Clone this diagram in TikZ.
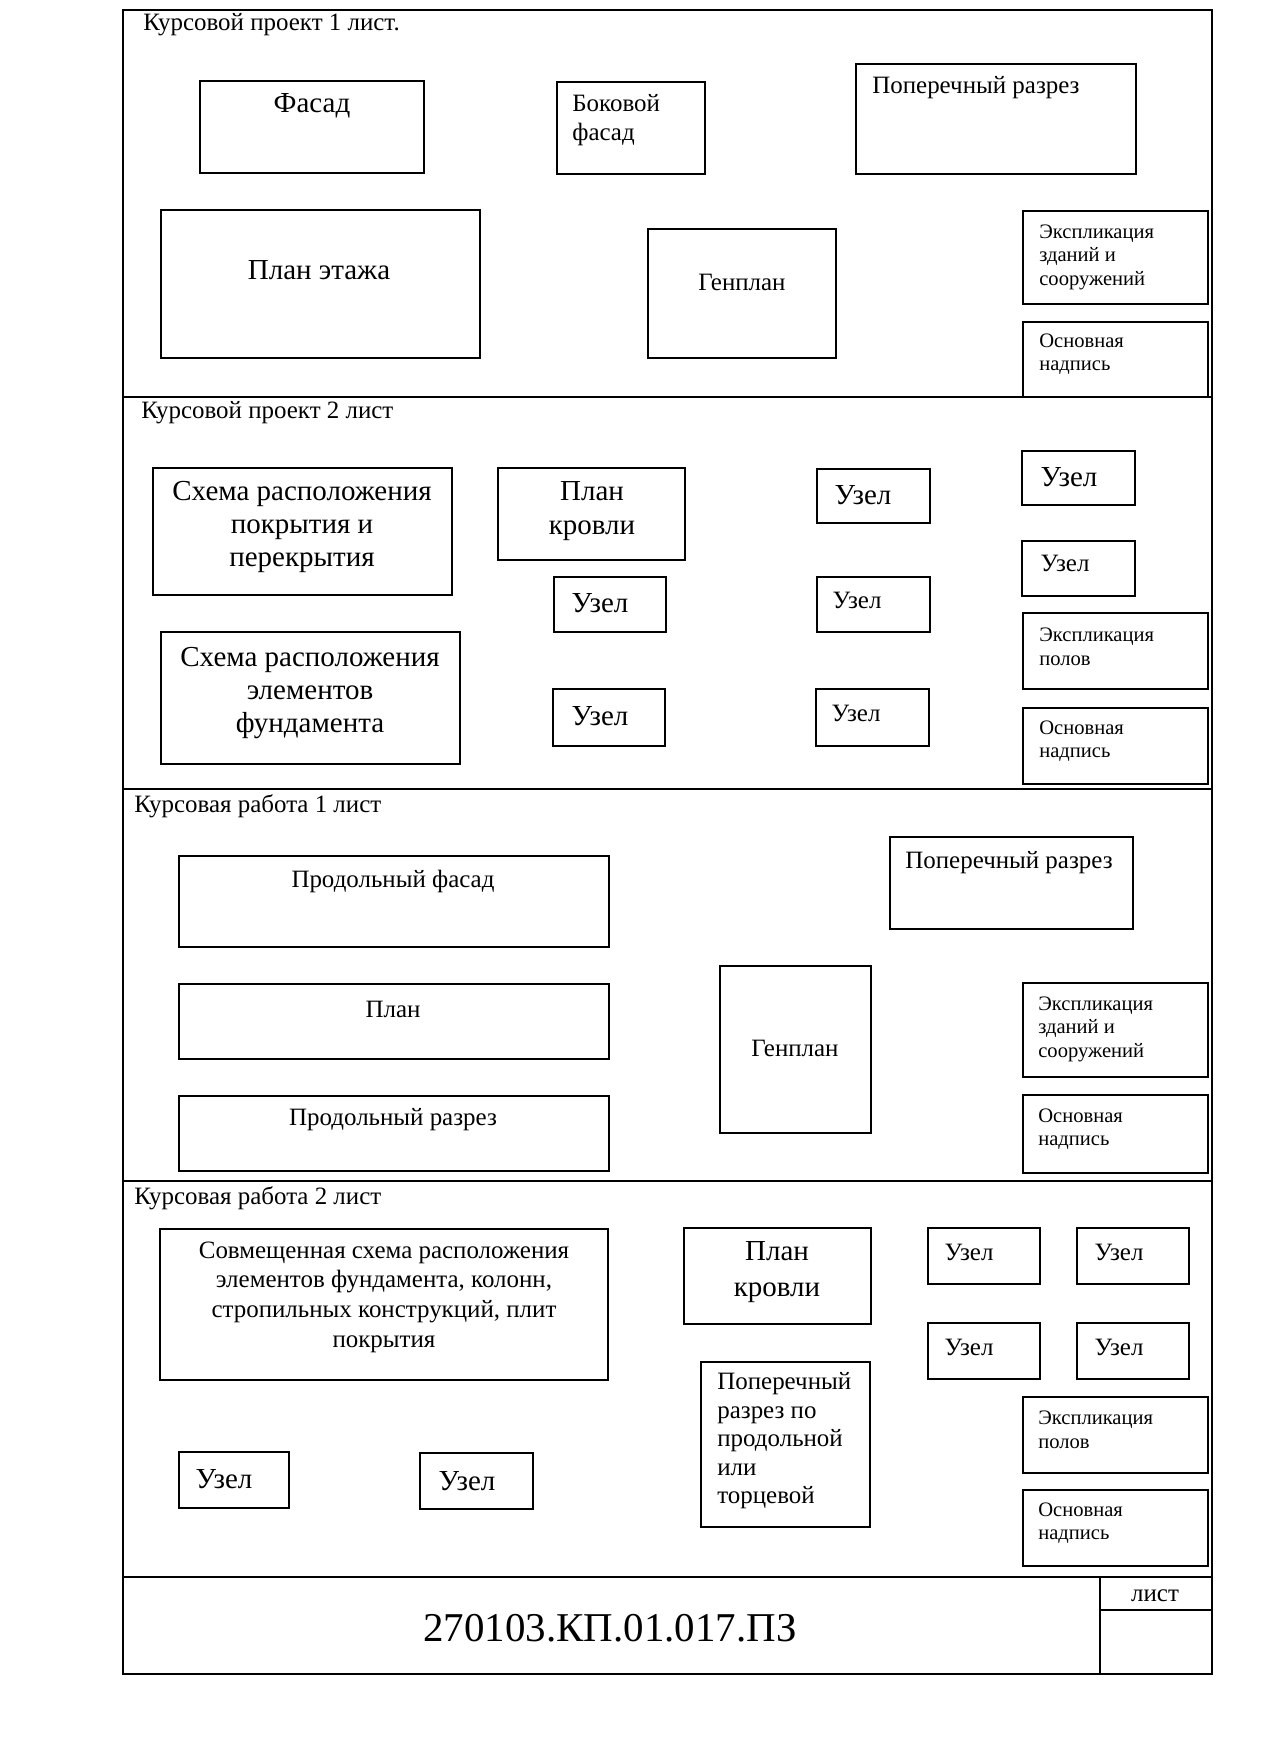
\documentclass[tikz,border=0pt]{standalone}
\usepackage{fontspec}
\setmainfont{Liberation Serif}
\usetikzlibrary{fit}

\begin{document}
\begin{tikzpicture}[
    x=0.02cm, y=-0.02cm,
    frame/.style={line width=1.1pt},
    sheet/.style={draw, line width=1.1pt, inner sep=0pt},
    head/.style={anchor=west, inner sep=0pt, font=\fontsize{14.2}{16.3}\selectfont},
    big/.style={align=center, inner sep=0pt, font=\fontsize{16.5}{19}\selectfont},
    mid/.style={align=center, inner sep=0pt, font=\fontsize{14.2}{16.5}\selectfont},
    sml/.style={anchor=west, align=left, inner sep=0pt, font=\fontsize{11.7}{13.4}\selectfont},
]
    \useasboundingbox (0,0) rectangle (1280,1754);
    % page frame, sheet borders, stamp
    \draw[frame] (123,10) rectangle (1212,1674);
    \foreach \y in {397,789,1181,1577}
        \draw[frame] (123,\y) -- (1212,\y);
    \draw[frame] (1100,1577) -- (1100,1674) (1100,1610) -- (1212,1610);

    % sheet 1
    \node[head] (kp1) at (143,25) {Курсовой проект 1 лист.};
    \node[sheet, fit={(200,81)(424,173)}] (fasad) {};
    \node[big] (fasadt) at (312,106) {Фасад};
    \node[sheet, fit={(557,82)(705,174)}] (bokfasad) {};
    \node[mid, anchor=west, align=left] (bokfasadt) at (572,120) {Боковой\\фасад};
    \node[sheet, fit={(856,64)(1136,174)}] (razrez1) {};
    \node[mid, anchor=west] (razrez1t) at (872,88) {Поперечный разрез};
    \node[sheet, fit={(161,210)(480,358)}] (planet) {};
    \node[big] (planett) at (319,270) {План этажа};
    \node[sheet, fit={(648,229)(836,358)}] (genplan1) {};
    \node[mid] (genplan1t) at (742,282) {Генплан};
    \node[sheet, fit={(1023,211)(1208,304)}] (expl1) {};
    \node[sml] (expl1t) at (1039,257) {Экспликация\\зданий и\\сооружений};
    \node[sheet, fit={(1023,322)(1208,397)}] (osn1) {};
    \node[sml] (osn1t) at (1039,354) {Основная\\надпись};

    % sheet 2
    \node[head] (kp2) at (141,413) {Курсовой проект 2 лист};
    \node[sheet, fit={(153,468)(452,595)}] (shema1) {};
    \node[big] (shema1t) at (302,527) {Схема расположения\\покрытия и\\перекрытия};
    \node[sheet, fit={(498,468)(685,560)}] (krovlia) {};
    \node[big] (krovliat) at (592,511) {План\\кровли};
    \node[sheet, fit={(817,469)(930,523)}] (uzel1) {};
    \node[big] (uzel1t) at (863,495) {Узел};
    \node[sheet, fit={(1022,451)(1135,505)}] (uzel2) {};
    \node[big] (uzel2t) at (1069,477) {Узел};
    \node[sheet, fit={(554,577)(666,632)}] (uzel3) {};
    \node[big] (uzel3t) at (600,603) {Узел};
    \node[sheet, fit={(817,577)(930,632)}] (uzel4) {};
    \node[mid] (uzel4t) at (857,600) {Узел};
    \node[sheet, fit={(1022,541)(1135,596)}] (uzel5) {};
    \node[mid] (uzel5t) at (1065,563) {Узел};
    \node[sheet, fit={(553,689)(665,746)}] (uzel6) {};
    \node[big] (uzel6t) at (600,716) {Узел};
    \node[sheet, fit={(816,689)(929,746)}] (uzel7) {};
    \node[mid] (uzel7t) at (856,713) {Узел};
    \node[sheet, fit={(1023,613)(1208,689)}] (expl2) {};
    \node[sml] (expl2t) at (1039,647) {Экспликация\\полов};
    \node[sheet, fit={(1023,708)(1208,784)}] (osn2) {};
    \node[sml] (osn2t) at (1039,741) {Основная\\надпись};
    \node[sheet, fit={(161,632)(460,764)}] (shema2) {};
    \node[big] (shema2t) at (310,693) {Схема расположения\\элементов\\фундамента};

    % sheet 3
    \node[head] (kr1) at (134,806) {Курсовая работа 1 лист};
    \node[sheet, fit={(179,856)(609,947)}] (profasad) {};
    \node[mid] (profasadt) at (393,881) {Продольный фасад};
    \node[sheet, fit={(179,984)(609,1059)}] (plan) {};
    \node[mid] (plant) at (393,1009) {План};
    \node[sheet, fit={(179,1096)(609,1171)}] (prorazrez) {};
    \node[mid] (prorazrezt) at (393,1120) {Продольный разрез};
    \node[sheet, fit={(890,837)(1133,929)}] (razrez2) {};
    \node[mid] (razrez2t) at (1009,863) {Поперечный разрез};
    \node[sheet, fit={(720,966)(871,1133)}] (genplan2) {};
    \node[mid] (genplan2t) at (795,1048) {Генплан};
    \node[sheet, fit={(1023,983)(1208,1077)}] (expl3) {};
    \node[sml] (expl3t) at (1038,1029) {Экспликация\\зданий и\\сооружений};
    \node[sheet, fit={(1023,1095)(1208,1173)}] (osn3) {};
    \node[sml] (osn3t) at (1038,1129) {Основная\\надпись};

    % sheet 4
    \node[head] (kr2) at (134,1198) {Курсовая работа 2 лист};
    \node[sheet, fit={(160,1229)(608,1380)}] (sovm) {};
    \node[mid, font=\fontsize{14.2}{16.9}\selectfont] (sovmt) at (384,1297)
        {Совмещенная схема расположения\\элементов фундамента, колонн,\\стропильных конструкций, плит\\покрытия};
    \node[sheet, fit={(684,1228)(871,1324)}] (krovlib) {};
    \node[big, font=\fontsize{16.5}{20.5}\selectfont] (krovlibt) at (777,1272) {План\\кровли};
    \node[sheet, fit={(928,1228)(1040,1284)}] (uzel8) {};
    \node[mid] (uzel8t) at (969,1252) {Узел};
    \node[sheet, fit={(1077,1228)(1189,1284)}] (uzel9) {};
    \node[mid] (uzel9t) at (1119,1252) {Узел};
    \node[sheet, fit={(928,1323)(1040,1379)}] (uzel10) {};
    \node[mid] (uzel10t) at (969,1347) {Узел};
    \node[sheet, fit={(1077,1323)(1189,1379)}] (uzel11) {};
    \node[mid] (uzel11t) at (1119,1347) {Узел};
    \node[sheet, fit={(701,1362)(870,1527)}] (poper) {};
    \node[mid, anchor=west, align=left, font=\fontsize{14.2}{16.2}\selectfont] (popert) at (717,1441)
        {Поперечный\\разрез по\\продольной\\или\\торцевой};
    \node[sheet, fit={(1023,1397)(1208,1473)}] (expl4) {};
    \node[sml] (expl4t) at (1038,1430) {Экспликация\\полов};
    \node[sheet, fit={(1023,1490)(1208,1566)}] (osn4) {};
    \node[sml] (osn4t) at (1038,1523) {Основная\\надпись};
    \node[sheet, fit={(179,1452)(289,1508)}] (uzel12) {};
    \node[big] (uzel12t) at (224,1479) {Узел};
    \node[sheet, fit={(420,1453)(533,1509)}] (uzel13) {};
    \node[big] (uzel13t) at (467,1481) {Узел};

    % stamp
    \node[inner sep=0pt, font=\fontsize{23.3}{27}\selectfont] (shifr) at (610,1628) {270103.КП.01.017.ПЗ};
    \node[mid] (list) at (1155,1596) {лист};
\end{tikzpicture}
\end{document}
